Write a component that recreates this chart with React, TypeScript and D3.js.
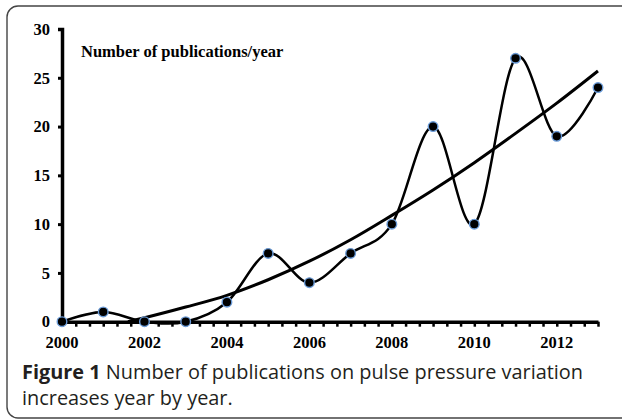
import * as d3 from "d3";
import { useEffect, useRef } from "react";

// publications per year
const years = [2000, 2001, 2002, 2003, 2004, 2005, 2006, 2007, 2008, 2009, 2010, 2011, 2012, 2013];
const counts = [0, 1, 0, 0, 2, 7, 4, 7, 10, 20, 10, 27, 19, 24];

// trend line
const trendYears = [2001.6, 2002, 2003, 2004, 2005, 2006, 2007, 2008, 2009, 2010, 2011, 2012, 2013];
const trendValues = [0, 0.4, 1.5, 2.7, 4.3, 6.2, 8.4, 10.9, 13.5, 16.3, 19.3, 22.4, 25.7];

const yTicks = [0, 5, 10, 15, 20, 25, 30];
const xLabels = [2000, 2002, 2004, 2006, 2008, 2010, 2012];

const width = 622;
const height = 420;

export default function App() {
  const ref = useRef<SVGSVGElement>(null);

  useEffect(() => {
    if (!ref.current) return;
    const svg = d3.select(ref.current);
    svg.selectAll("*").remove();

    const x = d3.scaleLinear().domain([2000, 2013]).range([62, 598]);
    const y = d3.scaleLinear().domain([0, 30]).range([321.7, 29]);

    // frame
    svg
      .append("rect")
      .attr("x", 7)
      .attr("y", 6)
      .attr("width", 640)
      .attr("height", 412)
      .attr("rx", 11)
      .attr("fill", "none")
      .attr("stroke", "#444")
      .attr("stroke-width", 1.4);

    const font = "'Liberation Serif', 'Times New Roman', serif";

    // y axis
    const gy = svg
      .append("g")
      .attr("transform", `translate(${x(2000)},0)`)
      .call(d3.axisLeft(y).tickValues(yTicks).tickSize(4).tickPadding(8).tickFormat(d3.format("d")));
    gy.select(".domain").attr("stroke", "#000").attr("stroke-width", 3.5);
    gy.selectAll(".tick line").attr("stroke", "#000").attr("stroke-width", 3);
    gy.selectAll(".tick text")
      .attr("font-family", font)
      .attr("font-weight", "bold")
      .attr("font-size", 16.5)
      .attr("fill", "#000");

    // x axis: minor ticks every third of a year
    const minor = d3.range(0, 40).map((i) => 2000 + i / 3);
    const gx = svg
      .append("g")
      .attr("transform", `translate(0,${y(0)})`)
      .call(d3.axisBottom(x).tickValues(minor).tickSize(5).tickSizeOuter(0).tickFormat(() => ""));
    gx.select(".domain").attr("stroke", "#000").attr("stroke-width", 3.5);
    gx.selectAll(".tick line").attr("stroke", "#000").attr("stroke-width", 2.5);

    svg
      .append("g")
      .selectAll("text")
      .data(xLabels)
      .join("text")
      .attr("x", (d) => x(d))
      .attr("y", y(0) + 26)
      .attr("text-anchor", "middle")
      .attr("font-family", font)
      .attr("font-weight", "bold")
      .attr("font-size", 16.5)
      .text((d) => d);

    svg
      .append("text")
      .attr("x", 81)
      .attr("y", 57)
      .attr("font-family", font)
      .attr("font-weight", "bold")
      .attr("font-size", 16.5)
      .text("Number of publications/year");

    // trend
    const trendLine = d3
      .line<number>()
      .x((d, i) => x(trendYears[i]))
      .y((d) => y(d))
      .curve(d3.curveMonotoneX);
    svg
      .append("path")
      .attr("d", trendLine(trendValues))
      .attr("fill", "none")
      .attr("stroke", "#000")
      .attr("stroke-width", 3);

    // smoothed data line
    const dataLine = d3
      .line<number>()
      .x((d, i) => x(years[i]))
      .y((d) => y(d))
      .curve(d3.curveCardinal.tension(0));
    svg
      .append("path")
      .attr("d", dataLine(counts))
      .attr("fill", "none")
      .attr("stroke", "#000")
      .attr("stroke-width", 2.5);

    svg
      .append("g")
      .selectAll("circle")
      .data(counts)
      .join("circle")
      .attr("cx", (d, i) => x(years[i]))
      .attr("cy", (d) => y(d))
      .attr("r", 4.8)
      .attr("fill", "#000")
      .attr("stroke", "#6a9bd8")
      .attr("stroke-width", 1.4);

    // caption
    const cap = svg
      .append("g")
      .attr("font-family", "'Open Sans', 'Noto Sans', sans-serif")
      .attr("font-size", 19.9)
      .attr("fill", "#231f20");
    const l1 = cap.append("text").attr("x", 22).attr("y", 379);
    l1.append("tspan").attr("font-weight", "bold").text("Figure 1");
    l1.append("tspan").text(" Number of publications on pulse pressure variation");
    cap.append("text").attr("x", 22).attr("y", 405).text("increases year by year.");

    return () => {
      svg.selectAll("*").remove();
    };
  }, []);

  return (
    <svg
      ref={ref}
      width={width}
      height={height}
      style={{ position: "absolute", left: 0, top: 0, background: "#fff" }}
    />
  );
}
